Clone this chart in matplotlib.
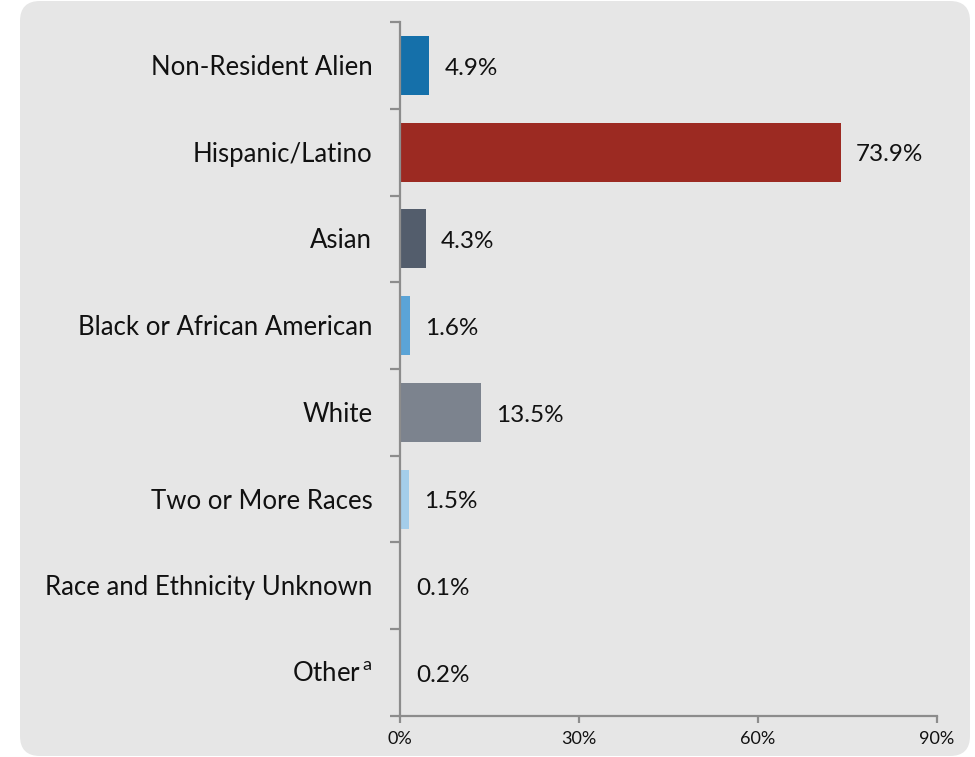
import matplotlib.pyplot as plt
import numpy as np
from matplotlib.patches import FancyBboxPatch
from matplotlib.transforms import IdentityTransform

# enrollment share by race / ethnicity
groups = ['Non-Resident Alien', 'Hispanic/Latino', 'Asian', 'Black or African American',
          'White', 'Two or More Races', 'Race and Ethnicity Unknown', 'Other']
shares = [4.9, 73.9, 4.3, 1.6, 13.5, 1.5, 0.1, 0.2]
bar_colors = ['#1570AA', '#9C2A22', '#535D6C', '#5BA4D7',
              '#7C838E', '#A4CDEA', '#B59A7E', '#8C8C8C']
x_ticks = [0, 30, 60, 90]

plt.rcParams['font.family'] = ['Lato', 'DejaVu Sans']
plt.rcParams['mathtext.fontset'] = 'custom'
plt.rcParams['mathtext.rm'] = 'Lato'

fig = plt.figure(figsize=(9.75, 7.57), dpi=100, facecolor='white')

# rounded grey panel behind the chart (pixel coordinates)
panel = FancyBboxPatch((20, 1), 950, 755,
                       boxstyle='round,pad=0,rounding_size=20',
                       transform=IdentityTransform(), facecolor='#E6E6E6',
                       edgecolor='none', zorder=-5)
fig.patches.append(panel)

ax = fig.add_axes([0.4103, 0.0542, 0.961 - 0.4103, 0.9709 - 0.0542])
ax.set_facecolor('none')
ax.set_zorder(1)

pos = np.arange(len(groups))
ax.barh(pos, shares, height=0.68, color=bar_colors, zorder=2)

ax.set_xlim(0, 90)
ax.set_ylim(len(groups) - 0.5, -0.5)

for y, v in zip(pos, shares):
    ax.annotate(f'{v:.1f}%', (v, y), xytext=(11, -2), textcoords='offset points',
                ha='left', va='center', fontsize=17.5, color='#111111')

labels = groups[:-1] + [r'Other$^{\mathrm{\,a}}$']
for y, lab in zip(pos, labels):
    ax.annotate(lab, (0, y), xytext=(-20, -1.5), xycoords='data',
                textcoords='offset points', ha='right', va='center',
                fontsize=18.5, color='#111111', annotation_clip=False)

# Excel-style ticks on category boundaries
ax.set_yticks(np.arange(-0.5, len(groups), 1))
ax.set_yticklabels([])
ax.set_xticks(x_ticks)
ax.set_xticklabels([f'{t}%' for t in x_ticks], fontsize=13)

for side in ['top', 'right']:
    ax.spines[side].set_visible(False)
for side in ['left', 'bottom']:
    ax.spines[side].set_color('#8C8C8C')
    ax.spines[side].set_linewidth(1.6)
ax.tick_params(axis='y', length=7, width=1.6, color='#8C8C8C', direction='out')
ax.tick_params(axis='x', length=5, width=1.6, color='#8C8C8C', direction='out',
               pad=6, labelcolor='#111111')

fig.savefig('out.png', dpi=100, facecolor='white')
